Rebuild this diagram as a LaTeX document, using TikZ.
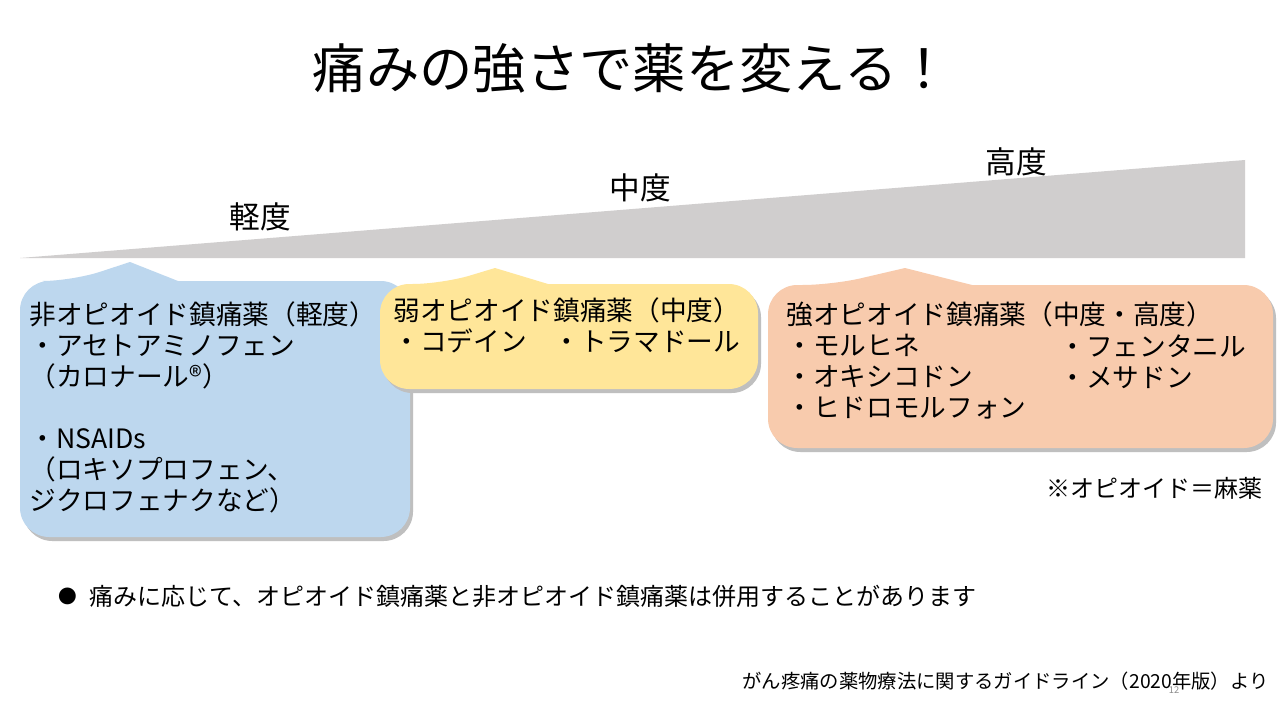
\documentclass[tikz,border=0pt]{standalone}
\usepackage{fontspec}
\setmainfont{Noto Sans CJK JP}
\definecolor{boxblue}{RGB}{189,215,238}
\definecolor{boxyellow}{RGB}{255,230,153}
\definecolor{boxorange}{RGB}{248,203,173}
\definecolor{wedgegray}{RGB}{208,206,206}
\tikzset{every picture/.style={line width=0.75pt}}
\tikzset{
  boxtext/.style={anchor=north west,inner sep=0.75pt,align=left,font=\fontsize{20}{23.3}\selectfont},
  levellabel/.style={inner sep=0.75pt,font=\fontsize{23}{26}\selectfont},
}
% callout: colour, left, top, right, bottom, pointer base left, apex x, apex y, pointer base right
\newcommand{\callout}[9]{%
  \fill [black!25,rounded corners=22] (#2+3,#5+4) -- (#2+3,#3+4) -- (#6+3,#3+4) [sharp corners] -- (#7+3,#8+4) -- (#9+3,#3+4) [rounded corners=22] -- (#4+3,#3+4) -- (#4+3,#5+4) -- cycle;
  \fill [#1,rounded corners=22] (#2,#5) -- (#2,#3) -- (#6,#3) [sharp corners] -- (#7,#8) -- (#9,#3) [rounded corners=22] -- (#4,#3) -- (#4,#5) -- cycle;
}

\begin{document}
\begin{tikzpicture}[x=0.75pt,y=0.75pt,yscale=-1,xscale=1]
\useasboundingbox (0,0) rectangle (1280,720);
\fill [white] (0,0) rectangle (1280,720);

% Title
\node (title) at (632,68) [inner sep=0.75pt,font=\fontsize{40}{44}\selectfont] {痛みの強さで薬を変える！};

%Shape: wedge
\fill [wedgegray] (20,258) -- (1245,160) -- (1245,258) -- cycle;
\node (mild) at (260,217) [levellabel] {軽度};
\node (moderate) at (640,188) [levellabel] {中度};
\node (severe) at (1016,162) [levellabel] {高度};

%Shape: callouts
\callout{boxblue}{20}{281}{410}{537}{72}{130}{262}{178}
\callout{boxyellow}{380}{284}{758}{389}{442}{495}{268}{548}
\callout{boxorange}{768}{285}{1273}{448}{832}{905}{268}{972}

% Text Node
\node (nonopioid) at (28,300) [boxtext] {非オピオイド鎮痛薬（軽度）\\・アセトアミノフェン\\（カロナール®）\\[23.3pt]・NSAIDs\\（ロキソプロフェン、\\ジクロフェナクなど）};
% Text Node
\node (weak) at (392,296) [boxtext] {弱オピオイド鎮痛薬（中度）\\・コデイン　・トラマドール};
% Text Node
\node (strong) at (785,300) [boxtext] {強オピオイド鎮痛薬（中度・高度）\\・モルヒネ\\・オキシコドン\\・ヒドロモルフォン};
% Text Node
\node (strongb) at (1058,333) [boxtext] {・フェンタニル\\・メサドン};
% Text Node
\node (note) at (1045,488) [anchor=west,inner sep=0.75pt,font=\fontsize{18}{21}\selectfont] {※オピオイド＝麻薬};
% Text Node
\node (bullet) at (68,596) [inner sep=0.75pt,font=\fontsize{14}{16}\selectfont] {●};
\node (combine) at (88,596) [anchor=west,inner sep=0.75pt,font=\fontsize{18}{21}\selectfont] {痛みに応じて、オピオイド鎮痛薬と非オピオイド鎮痛薬は併用することがあります};
% Text Node
\node (source) at (1270,681) [anchor=east,inner sep=0.75pt,font=\fontsize{14.5}{17}\selectfont] {がん疼痛の薬物療法に関するガイドライン（2020年版）より};
\node (page) at (1174,690) [inner sep=0.75pt,text=black!45,font=\fontsize{7}{8}\selectfont] {12};

\end{tikzpicture}
\end{document}
